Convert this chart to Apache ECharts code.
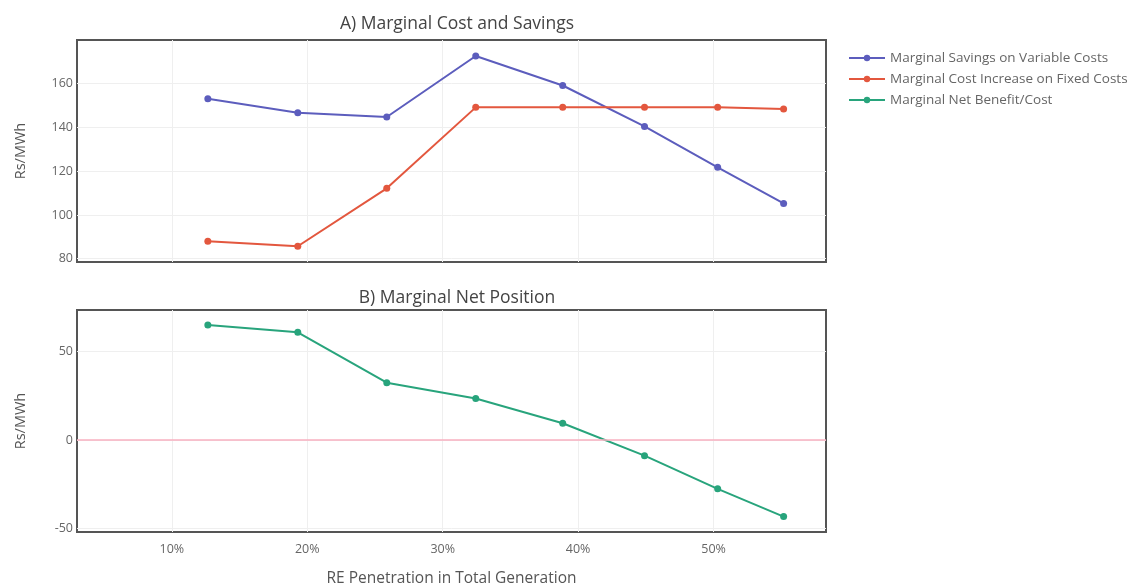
<!DOCTYPE html>
<html>
<head>
<meta charset="utf-8">
<title>Marginal Cost and Savings</title>
<script src="https://cdn.jsdelivr.net/npm/echarts@6/dist/echarts.min.js"></script>
<style>
  html, body { margin: 0; padding: 0; background: #fff; }
  #chart { width: 1136px; height: 586px; }
</style>
</head>
<body>
<div id="chart"></div>
<script>
// RE penetration share (%) for each scenario step
const rePenetration = [12.66, 19.3, 25.87, 32.44, 38.86, 44.9, 50.3, 55.17];

// Rs/MWh
const savingsVariable = [153.1, 146.7, 144.8, 172.7, 159.2, 140.5, 121.8, 105.3];
const costFixed = [88.0, 85.7, 112.2, 149.2, 149.2, 149.2, 149.2, 148.5];
const netBenefit = [65.1, 61.0, 32.5, 23.5, 9.5, -8.8, -27.6, -43.3];

const xTicks = [10, 20, 30, 40, 50];
const yTicksTop = [80, 100, 120, 140, 160];
const yTicksBottom = [-50, 0, 50];

const seriesNames = [
  'Marginal Savings on Variable Costs',
  'Marginal Cost Increase on Fixed Costs',
  'Marginal Net Benefit/Cost'
];
const colors = ['#5c5dbd', '#e3573e', '#28a47c'];

const pairs = (xs, ys) => xs.map((x, i) => [x, ys[i]]);

const FONT = '"Open Sans", "Noto Sans", sans-serif';
const gridLine = { show: true, lineStyle: { color: '#efefef', width: 1 } };

function xAxis(gridIndex, showLabels) {
  return {
    type: 'value', gridIndex, min: 3, max: 58.3,
    axisLine: { show: false },
    axisTick: { show: false, customValues: xTicks },
    splitLine: gridLine,
    axisLabel: {
      show: showLabels, customValues: xTicks,
      formatter: v => v + '%', color: '#666', fontSize: 12.5, fontFamily: FONT, margin: 11
    },
    name: showLabels ? 'RE Penetration in Total Generation' : '',
    nameLocation: 'middle', nameGap: 39,
    nameTextStyle: { color: '#555', fontSize: 15.5, fontFamily: FONT }
  };
}

function yAxis(gridIndex, min, max, ticks) {
  return {
    type: 'value', gridIndex, min, max,
    axisLine: { show: false },
    axisTick: { show: false, customValues: ticks },
    splitLine: gridLine,
    axisLabel: { customValues: ticks, color: '#666', fontSize: 12.5, fontFamily: FONT, margin: 4 },
    name: 'Rs/MWh', nameLocation: 'middle', nameGap: 49,
    nameTextStyle: { color: '#555', fontSize: 14.5, fontFamily: FONT }
  };
}

function lineSeries(idx, xi, yi, data, extra) {
  return Object.assign({
    name: seriesNames[idx], type: 'line', xAxisIndex: xi, yAxisIndex: yi,
    data, symbol: 'circle', symbolSize: 7, showSymbol: true,
    lineStyle: { color: colors[idx], width: 2 },
    itemStyle: { color: colors[idx] },
    animation: false
  }, extra || {});
}

const gridBase = {
  left: 77, width: 749, height: 222, show: true,
  borderColor: '#555', borderWidth: 2, backgroundColor: 'transparent',
  outerBoundsMode: 'none', containLabel: false
};

const chart = echarts.init(document.getElementById('chart'));
chart.setOption({
  backgroundColor: '#ffffff',
  textStyle: { fontFamily: FONT },
  title: [
    { text: 'A) Marginal Cost and Savings', left: 452, top: 10, textAlign: 'center',
      textStyle: { color: '#444', fontSize: 17.5, fontWeight: 'normal', fontFamily: FONT } },
    { text: 'B) Marginal Net Position', left: 452, top: 284, textAlign: 'center',
      textStyle: { color: '#444', fontSize: 17.5, fontWeight: 'normal', fontFamily: FONT } }
  ],
  legend: {
    orient: 'vertical', left: 843, top: 46, itemWidth: 36, itemHeight: 8, itemGap: 7,
    data: seriesNames,
    textStyle: { color: '#666', fontSize: 13.5, fontFamily: FONT, padding: [0, 0, 0, 0] }
  },
  grid: [
    Object.assign({ top: 40 }, gridBase),
    Object.assign({ top: 310 }, gridBase)
  ],
  xAxis: [xAxis(0, false), xAxis(1, true)],
  yAxis: [yAxis(0, 78.5, 180, yTicksTop), yAxis(1, -52, 73.6, yTicksBottom)],
  series: [
    lineSeries(0, 0, 0, pairs(rePenetration, savingsVariable)),
    lineSeries(1, 0, 0, pairs(rePenetration, costFixed)),
    lineSeries(2, 1, 1, pairs(rePenetration, netBenefit), {
      markLine: {
        silent: true, symbol: 'none', label: { show: false },
        lineStyle: { color: '#f8b0c0', width: 1.5, type: 'solid' },
        data: [{ yAxis: 0 }]
      }
    })
  ]
});
</script>
</body>
</html>
